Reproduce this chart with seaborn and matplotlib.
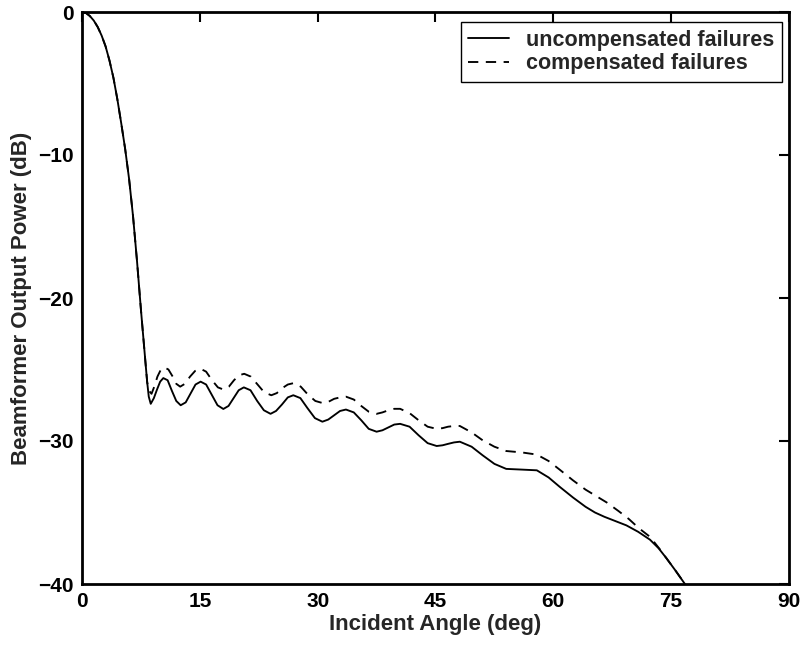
import matplotlib
matplotlib.use("Agg")
import matplotlib.pyplot as plt
import seaborn as sns
import pandas as pd

# ---- data ----
mainlobe_deg = [0.0, 0.5, 1.0, 1.5, 2.0, 2.5, 3.0, 3.5, 4.0, 4.5, 5.0, 5.5, 6.0, 6.5, 7.0, 7.5, 8.0, 8.3]
mainlobe_db = [0.0, -0.07, -0.28, -0.6, -1.05, -1.65, -2.4, -3.4, -4.6, -6.1, -7.8, -9.6, -11.7, -14.3,
               -17.4, -20.8, -24.0, -25.9]

uncomp_deg = [8.5, 8.75, 9.15, 9.55, 9.95, 10.35, 10.9, 11.45, 12.0, 12.56, 13.2, 13.8, 14.45, 15.1,
              15.8, 16.55, 17.25, 17.99, 18.65, 19.3, 19.95, 20.6, 21.45, 22.3, 23.15, 24.0, 24.7,
              25.45, 26.2, 26.9, 27.8, 28.7, 29.65, 30.6, 31.35, 32.1, 32.85, 33.6, 34.6, 35.55,
              36.5, 37.5, 38.25, 39.0, 39.75, 40.5, 41.7, 42.85, 44.0, 45.15, 45.9, 46.6, 47.35,
              48.1, 49.6, 51.0, 52.5, 54.0, 56.0, 57.9, 59.4, 60.8, 62.5, 64.1, 65.3, 66.5, 67.9,
              69.3, 70.8, 72.3, 73.4, 74.4, 75.6, 76.75, 77.5]
uncomp_db = [-26.9, -27.4, -27.0, -26.4, -25.85, -25.6, -25.75, -26.5, -27.2, -27.5, -27.3, -26.7,
             -26.05, -25.85, -26.05, -26.8, -27.5, -27.76, -27.55, -27.0, -26.45, -26.25, -26.45,
             -27.2, -27.85, -28.1, -27.9, -27.45, -26.95, -26.8, -27.0, -27.7, -28.4, -28.65, -28.5,
             -28.2, -27.9, -27.8, -28.0, -28.55, -29.15, -29.35, -29.25, -29.05, -28.85, -28.8,
             -29.0, -29.6, -30.15, -30.35, -30.3, -30.2, -30.1, -30.05, -30.4, -31.0, -31.6, -31.95,
             -32.0, -32.05, -32.55, -33.2, -33.95, -34.6, -35.0, -35.3, -35.6, -35.9, -36.35, -36.9,
             -37.5, -38.2, -39.1, -40.0, -40.8]

comp_deg = [8.55, 8.85, 9.2, 9.6, 10.0, 10.45, 11.0, 11.55, 12.0, 12.5, 13.1, 13.75, 14.4, 15.1,
            15.8, 16.55, 17.3, 18.0, 18.7, 19.35, 20.0, 20.65, 21.5, 22.35, 23.2, 24.1, 24.8, 25.5,
            26.2, 26.95, 27.85, 28.75, 29.7, 30.65, 31.4, 32.1, 32.85, 33.6, 34.6, 35.55, 36.5,
            37.5, 38.25, 39.0, 39.75, 40.5, 41.7, 42.85, 44.0, 45.15, 45.9, 46.6, 47.35, 48.1,
            49.6, 51.0, 52.5, 54.0, 56.0, 57.9, 59.4, 60.8, 62.5, 64.1, 65.3, 66.8, 68.3, 69.6,
            70.9, 72.3, 73.6, 74.4, 75.6, 76.75, 77.5]
comp_db = [-26.5, -26.7, -26.2, -25.5, -25.05, -24.85, -25.0, -25.5, -26.0, -26.2, -26.0, -25.5,
           -25.1, -24.95, -25.15, -25.75, -26.25, -26.4, -26.2, -25.75, -25.4, -25.3, -25.5,
           -26.05, -26.6, -26.8, -26.65, -26.3, -26.05, -25.95, -26.2, -26.75, -27.2, -27.35,
           -27.25, -27.05, -26.95, -26.9, -27.1, -27.55, -27.95, -28.1, -28.0, -27.85, -27.75,
           -27.75, -28.05, -28.55, -29.0, -29.15, -29.1, -29.0, -28.95, -28.95, -29.4, -29.95,
           -30.4, -30.7, -30.8, -30.95, -31.4, -32.0, -32.75, -33.4, -33.8, -34.3, -34.9, -35.45,
           -36.1, -36.7, -37.6, -38.2, -39.1, -40.0, -40.8]

series_names = ["uncompensated failures", "compensated failures"]
x_ticks = [0, 15, 30, 45, 60, 75, 90]
y_ticks = [-40, -30, -20, -10, 0]
x_label = "Incident Angle (deg)"
y_label = "Beamformer Output Power (dB)"

# ---- styling ----
sns.set_style("white")
plt.rcParams['font.family'] = ['Liberation Sans', 'DejaVu Sans']
plt.rcParams['font.weight'] = 'bold'

W, H = 804, 647
fig = plt.figure(figsize=(W / 100, H / 100), dpi=100)
left, right, top, bottom = 82, 789, 12, 584
ax = fig.add_axes([left / W, 1 - bottom / H, (right - left) / W, (bottom - top) / H])

df_unc = pd.DataFrame({"deg": mainlobe_deg + uncomp_deg, "db": mainlobe_db + uncomp_db})
df_cmp = pd.DataFrame({"deg": mainlobe_deg + comp_deg, "db": mainlobe_db + comp_db})

sns.lineplot(data=df_unc, x="deg", y="db", color="black", linewidth=1.35, estimator=None,
             sort=False, label=series_names[0], ax=ax)
sns.lineplot(data=df_cmp, x="deg", y="db", color="black", linewidth=1.35, estimator=None,
             sort=False, linestyle=(0, (5.5, 4)), label=series_names[1], ax=ax)

ax.set_xlim(0, 90)
ax.set_ylim(-40, 0)
ax.set_xticks(x_ticks)
ax.set_yticks(y_ticks)
ax.tick_params(direction="in", length=7, width=1.5, top=True, right=True,
               labelsize=15, pad=6, colors="black")
for lab in ax.get_xticklabels() + ax.get_yticklabels():
    lab.set_fontweight("bold")
for s in ax.spines.values():
    s.set_linewidth(2.0)
    s.set_color("black")
    s.set_visible(True)

ax.set_xlabel(x_label, fontsize=16, fontweight="bold", labelpad=2)
ax.set_ylabel(y_label, fontsize=16, fontweight="bold", labelpad=4)

leg = ax.legend(loc="upper right", bbox_to_anchor=((782 - left) / (right - left), (bottom - 22) / (bottom - top)),
                borderaxespad=0, fancybox=False, framealpha=1, edgecolor="black",
                fontsize=15.5, handlelength=1.9, labelspacing=0.12, borderpad=0.35,
                handletextpad=0.8)
leg.get_frame().set_linewidth(1.0)
for t in leg.get_texts():
    t.set_fontweight("bold")

fig.savefig("out.png", dpi=100)
